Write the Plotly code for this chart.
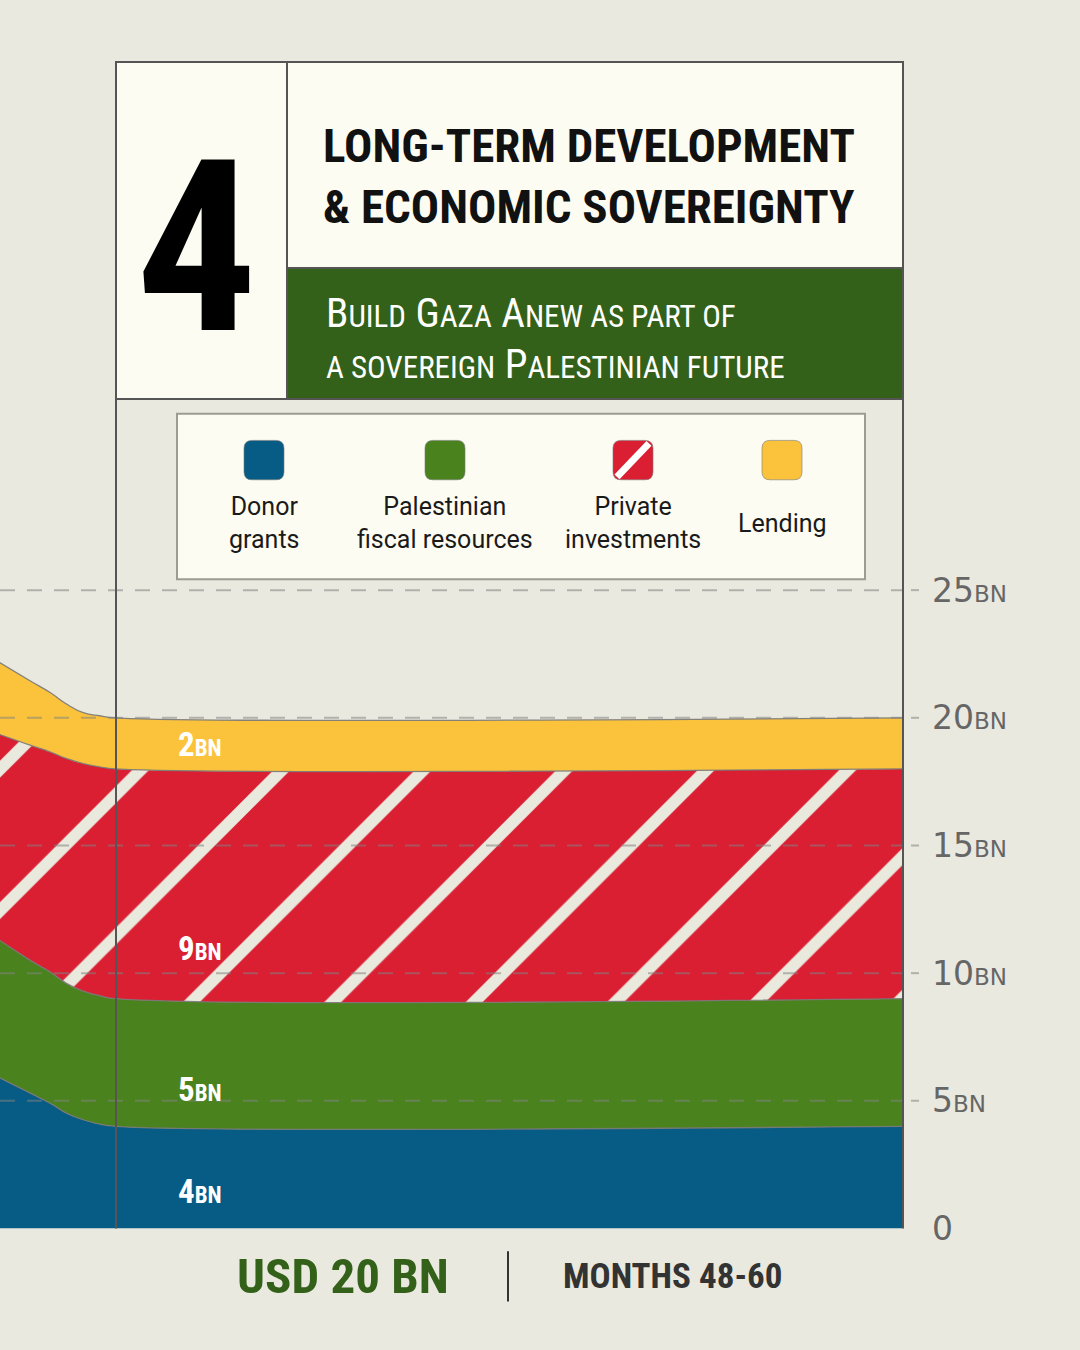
import plotly.graph_objects as go

# months on the x axis, the flat part is months 48-60
months = [46.2, 46.7, 47.0, 47.25, 47.5, 47.75, 48.0, 60.0]
donor_grants = [5.93, 5.29, 4.90, 4.51, 4.26, 4.09, 4.0, 4.0]
fiscal_resources = [5.40, 5.20, 5.14, 5.08, 5.04, 5.03, 5.0, 5.0]
private_investments = [8.04, 8.43, 8.62, 8.81, 8.91, 8.96, 9.0, 9.0]
lending = [2.83, 2.51, 2.32, 2.13, 1.99, 2.0, 2.0, 2.0]

series_names = ["Donor grants", "Palestinian fiscal resources", "Private investments", "Lending"]
legend_labels = ["Donor<br>grants", "Palestinian<br>fiscal resources", "Private<br>investments", "Lending"]
band_labels = ["4", "5", "9", "2"]
tick_vals = [0, 5, 10, 15, 20, 25]
tick_text = ["0"] + [f"{v}<span style='font-size:23px'>BN</span>" for v in tick_vals[1:]]

BG = "#EAE9DF"
CREAM = "#FDFCF2"
BLUE = "#065C84"
GREEN = "#4A831E"
RED = "#DA1F33"
YELLOW = "#FBC33C"
DARK_GREEN = "#33611A"
FRAME = "#555555"
COND = "Roboto Condensed, Open Sans Condensed, DejaVu Sans Condensed, sans-serif"

W, H = 1080, 1350


def px(x):
    return x / W


def py(y):
    return 1 - y / H


fig = go.Figure()

all_series = [donor_grants, fiscal_resources, private_investments, lending]
colors = [BLUE, GREEN, RED, YELLOW]
for name, vals, col in zip(series_names, all_series, colors):
    tr = dict(
        x=months, y=vals, name=name, mode="lines", stackgroup="one",
        line=dict(color="rgba(120,120,120,0.9)", width=1.3, shape="spline", smoothing=1.3),
        fillcolor=col, showlegend=False, hoverinfo="skip",
    )
    if name == "Private investments":
        tr["fillpattern"] = dict(shape="/", size=100, solidity=0.12,
                                 fgcolor="#EAE9DD", bgcolor=RED, fillmode="replace")
    fig.add_trace(go.Scatter(**tr))

shapes = []
# dashed gridlines drawn over the areas, with small outside ticks
for v in tick_vals[1:]:
    shapes.append(dict(type="line", xref="paper", yref="y", x0=0, x1=px(903), y0=v, y1=v,
                       layer="above", line=dict(color="rgba(130,130,130,0.55)", width=2, dash="15px,12px")))
    shapes.append(dict(type="line", xref="paper", yref="y", x0=px(911), x1=px(919), y0=v, y1=v,
                       layer="above", line=dict(color="rgba(130,130,130,0.55)", width=2)))

# frame lines
shapes.append(dict(type="line", xref="paper", yref="paper", x0=px(116), x1=px(116), y0=py(405), y1=py(1247),
                   layer="above", line=dict(color=FRAME, width=2)))
shapes.append(dict(type="line", xref="paper", yref="paper", x0=px(903), x1=px(903), y0=py(63), y1=py(1247),
                   layer="above", line=dict(color=FRAME, width=2)))

# header card
shapes.append(dict(type="rect", xref="paper", yref="paper", x0=px(116), x1=px(903), y0=py(405), y1=py(63),
                   layer="above", fillcolor=CREAM, line=dict(color=FRAME, width=2)))
shapes.append(dict(type="rect", xref="paper", yref="paper", x0=px(287), x1=px(903), y0=py(405), y1=py(272),
                   layer="above", fillcolor=DARK_GREEN, line=dict(color=FRAME, width=2)))
shapes.append(dict(type="line", xref="paper", yref="paper", x0=px(287), x1=px(287), y0=py(405), y1=py(63),
                   layer="above", line=dict(color=FRAME, width=2)))

# legend box
shapes.append(dict(type="rect", xref="paper", yref="paper", x0=px(177), x1=px(865), y0=py(588), y1=py(420),
                   layer="above", fillcolor=CREAM, line=dict(color="#9C9C94", width=2)))


def rounded(x0, y0, x1, y1, r):
    rx, ry = r / W, r / H
    a, b, c, d = px(x0), py(y1), px(x1), py(y0)
    return (f"M{a+rx},{b} L{c-rx},{b} Q{c},{b} {c},{b+ry} L{c},{d-ry} Q{c},{d} {c-rx},{d} "
            f"L{a+rx},{d} Q{a},{d} {a},{d-ry} L{a},{b+ry} Q{a},{b} {a+rx},{b} Z")


swatch_cx = [264, 445, 633, 782]
annotations = []
for cx, col, lab in zip(swatch_cx, colors, legend_labels):
    shapes.append(dict(type="path", xref="paper", yref="paper", path=rounded(cx - 20, 447, cx + 20, 487, 8),
                       layer="above", fillcolor=col, line=dict(color="rgba(120,120,120,0.6)", width=1)))
    if col == RED:
        shapes.append(dict(type="line", xref="paper", yref="paper", x0=px(cx - 16), x1=px(cx + 16),
                           y0=py(484), y1=py(450), layer="above", line=dict(color="white", width=7)))
    annotations.append(dict(xref="paper", yref="paper", x=px(cx), y=py(531), text=lab, showarrow=False,
                            xanchor="center", yanchor="middle", align="center",
                            font=dict(family="Roboto", size=25, color="#1A1A1A")))

# header text
annotations.append(dict(xref="paper", yref="paper", x=px(196), y=py(252), text="4", showarrow=False,
                        xanchor="center", yanchor="middle",
                        font=dict(family=COND, size=240, color="black", weight=700)))
annotations.append(dict(xref="paper", yref="paper", x=px(321), y=py(179),
                        text="LONG-TERM DEVELOPMENT<br>&amp; ECONOMIC SOVEREIGNTY",
                        showarrow=False, xanchor="left", yanchor="middle", align="left",
                        font=dict(family=COND, size=47, color="#111111", weight=700)))
sm = "<span style='font-size:31px'>"
annotations.append(dict(xref="paper", yref="paper", x=px(324), y=py(318),
                        text=f"B{sm}UILD</span> G{sm}AZA</span> A{sm}NEW AS PART OF</span>",
                        showarrow=False, xanchor="left", yanchor="middle",
                        font=dict(family=COND, size=41, color="white")))
annotations.append(dict(xref="paper", yref="paper", x=px(324), y=py(369),
                        text=f"{sm}A SOVEREIGN</span> P{sm}ALESTINIAN FUTURE</span>",
                        showarrow=False, xanchor="left", yanchor="middle",
                        font=dict(family=COND, size=41, color="white")))

# band value labels
label_offsets = [1.45, 1.45, 1.95, 0.95]
base = 0
for vals, lab, off in zip(all_series, band_labels, label_offsets):
    annotations.append(dict(xref="x", yref="y", x=48.92, y=base + off,
                            text=f"{lab}<span style='font-size:23px'>BN</span>", showarrow=False,
                            xanchor="left", yanchor="middle",
                            font=dict(family=COND, size=33, color="white", weight=700)))
    base += vals[-1]

# footer
annotations.append(dict(xref="paper", yref="paper", x=px(343), y=py(1296), text="USD 20 BN", showarrow=False,
                        xanchor="center", yanchor="middle",
                        font=dict(family=COND, size=49, color=DARK_GREEN, weight=700)))
annotations.append(dict(xref="paper", yref="paper", x=px(672), y=py(1296), text="MONTHS 48-60", showarrow=False,
                        xanchor="center", yanchor="middle",
                        font=dict(family=COND, size=35, color="#333333", weight=700)))
shapes.append(dict(type="line", xref="paper", yref="paper", x0=px(508), x1=px(508), y0=py(1270), y1=py(1321),
                   line=dict(color="#333333", width=2)))

fig.update_layout(
    width=W, height=H, autosize=False,
    margin=dict(l=0, r=0, t=0, b=0),
    paper_bgcolor=BG, plot_bgcolor=BG,
    shapes=shapes, annotations=annotations,
    xaxis=dict(domain=[0, px(903)], range=[46.23, 60], visible=False, fixedrange=True),
    yaxis=dict(domain=[py(1247), py(63)], range=[0, (1247 - 63) / 25.92], side="right",
               tickvals=tick_vals, ticktext=tick_text, showgrid=False, zeroline=False,
               showline=False, ticks="", ticklabelstandoff=28, fixedrange=True,
               tickfont=dict(family="DejaVu Sans", size=33, color="#666666")),
)

# no page margin, and let the figure fill the whole browser viewport
page_js = ("var s=document.createElement('style');"
           "s.textContent='html,body{margin:0;padding:0;overflow:hidden;background:" + BG + ";}';"
           "document.head.appendChild(s);"
           "var gd=document.getElementById('{plot_id}');"
           "var h=Math.max(window.innerHeight||0,document.documentElement.clientHeight||0," + str(H) + ");"
           "if(h!==" + str(H) + "){gd.style.height=h+'px';Plotly.relayout(gd,{height:h});}")
fig.write_html(
    "out.html",
    config={"displayModeBar": False, "staticPlot": True, "responsive": False},
    post_script=page_js,
)
